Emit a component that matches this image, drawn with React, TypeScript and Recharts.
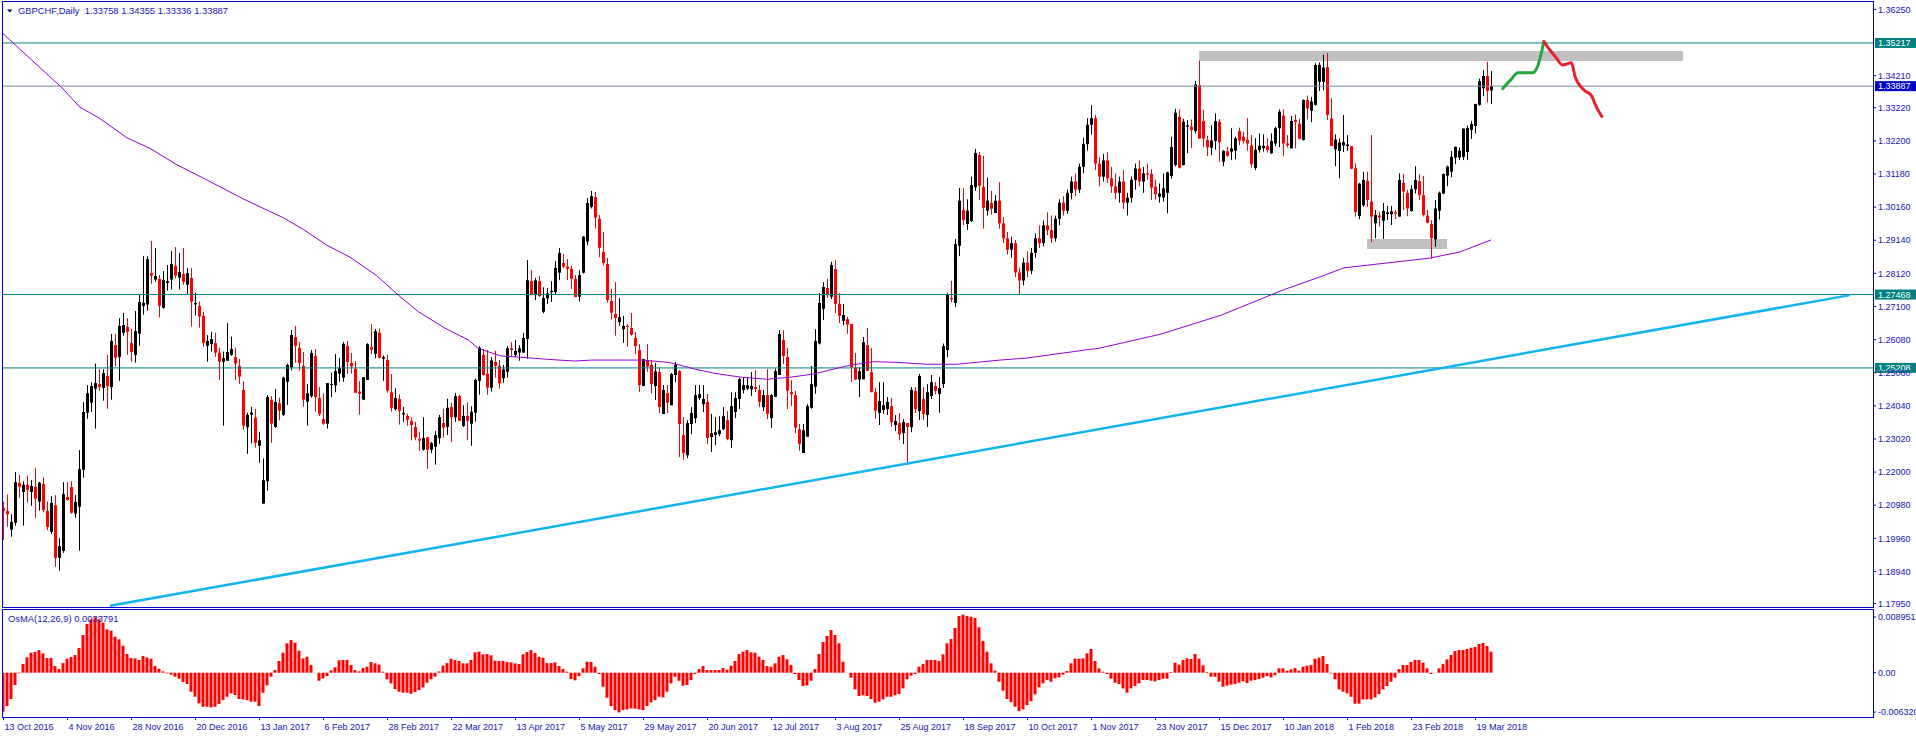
import React from 'react';
import { ComposedChart, Bar, Line, XAxis, YAxis, ReferenceLine, ReferenceArea } from 'recharts';

// GBPCHF daily candles, 13 Oct 2016 .. 23 Mar 2018 (one entry per bar)
const opens = [
  1.2090, 1.2080, 1.2023, 1.2044, 1.2167, 1.2139, 1.2161, 1.2139, 1.2154, 1.2109,
  1.2163, 1.2080, 1.2016, 1.2098, 1.1936, 1.1957, 1.2123, 1.2154, 1.2072, 1.2093,
  1.2207, 1.2383, 1.2414, 1.2457, 1.2471, 1.2459, 1.2496, 1.2462, 1.2591, 1.2555,
  1.2629, 1.2647, 1.2597, 1.2561, 1.2626, 1.2712, 1.2716, 1.2813, 1.2793, 1.2795,
  1.2706, 1.2783, 1.2793, 1.2835, 1.2799, 1.2810, 1.2777, 1.2798, 1.2716, 1.2712,
  1.2681, 1.2589, 1.2595, 1.2597, 1.2568, 1.2540, 1.2543, 1.2561, 1.2554, 1.2527,
  1.2453, 1.2338, 1.2377, 1.2368, 1.2281, 1.2103, 1.2172, 1.2423, 1.2339, 1.2412,
  1.2376, 1.2478, 1.2522, 1.2616, 1.2582, 1.2527, 1.2417, 1.2434, 1.2557, 1.2429,
  1.2363, 1.2349, 1.2468, 1.2467, 1.2503, 1.2491, 1.2588, 1.2536, 1.2518, 1.2448,
  1.2423, 1.2484, 1.2585, 1.2564, 1.2629, 1.2549, 1.2545, 1.2446, 1.2394, 1.2425,
  1.2377, 1.2373, 1.2357, 1.2339, 1.2302, 1.2269, 1.2307, 1.2269, 1.2278, 1.2304,
  1.2351, 1.2339, 1.2400, 1.2369, 1.2434, 1.2342, 1.2373, 1.2349, 1.2383, 1.2481,
  1.2561, 1.2503, 1.2460, 1.2539, 1.2527, 1.2489, 1.2509, 1.2581, 1.2561, 1.2568,
  1.2568, 1.2610, 1.2788, 1.2745, 1.2788, 1.2694, 1.2735, 1.2754, 1.2754, 1.2814,
  1.2844, 1.2833, 1.2826, 1.2795, 1.2740, 1.2814, 1.2910, 1.3017, 1.3047, 1.2980,
  1.2878, 1.2841, 1.2727, 1.2687, 1.2662, 1.2640, 1.2650, 1.2644, 1.2613, 1.2576,
  1.2465, 1.2545, 1.2530, 1.2465, 1.2508, 1.2379, 1.2443, 1.2406, 1.2499, 1.2511,
  1.2314, 1.2252, 1.2348, 1.2366, 1.2428, 1.2409, 1.2416, 1.2308, 1.2314, 1.2317,
  1.2332, 1.2360, 1.2298, 1.2385, 1.2425, 1.2453, 1.2457, 1.2455, 1.2462, 1.2453,
  1.2400, 1.2437, 1.2366, 1.2432, 1.2499, 1.2607, 1.2554, 1.2446, 1.2437, 1.2332,
  1.2259, 1.2309, 1.2398, 1.2463, 1.2596, 1.2703, 1.2767, 1.2740, 1.2825, 1.2718,
  1.2666, 1.2671, 1.2656, 1.2522, 1.2485, 1.2486, 1.2591, 1.2508, 1.2446, 1.2382,
  1.2391, 1.2394, 1.2403, 1.2345, 1.2351, 1.2320, 1.2351, 1.2338, 1.2450, 1.2388,
  1.2425, 1.2376, 1.2434, 1.2465, 1.2440, 1.2471, 1.2576, 1.2736, 1.2721, 1.2897,
  1.3007, 1.2964, 1.2973, 1.3077, 1.3177, 1.3078, 1.3005, 1.3029, 1.2998, 1.3036,
  1.2966, 1.2920, 1.2885, 1.2905, 1.2815, 1.2790, 1.2845, 1.2820, 1.2875, 1.2920,
  1.2905, 1.2960, 1.2945, 1.2920, 1.2980, 1.3030, 1.3005, 1.3060, 1.3095, 1.3070,
  1.3140, 1.3210, 1.3270, 1.3290, 1.3150, 1.3110, 1.3160, 1.3105, 1.3080, 1.3060,
  1.3095, 1.3030, 1.3045, 1.3100, 1.3135, 1.3095, 1.3120, 1.3118, 1.3079, 1.3048,
  1.3045, 1.3060, 1.3112, 1.3146, 1.3294, 1.3146, 1.3264, 1.3264, 1.3250, 1.3392,
  1.3281, 1.3223, 1.3199, 1.3220, 1.3279, 1.3156, 1.3188, 1.3187, 1.3190, 1.3250,
  1.3233, 1.3223, 1.3206, 1.3137, 1.3192, 1.3198, 1.3204, 1.3182, 1.3212, 1.3259,
  1.3298, 1.3212, 1.3197, 1.3285, 1.3273, 1.3223, 1.3346, 1.3313, 1.3331, 1.3402,
  1.3402, 1.3447, 1.3289, 1.3194, 1.3189, 1.3206, 1.3204, 1.3204, 1.3136, 1.2989,
  1.3022, 1.3097, 1.3033, 1.2966, 1.2990, 1.2974, 1.2995, 1.2994, 1.3000, 1.2987,
  1.3091, 1.3060, 1.3004, 1.3071, 1.3096, 1.3053, 1.2990, 1.2964, 1.2917, 1.3005,
  1.3058, 1.3113, 1.3125, 1.3169, 1.3169, 1.3171, 1.3186, 1.3254, 1.3266, 1.3331,
  1.3382, 1.3420, 1.33758,
];

const highs = [
  1.2109, 1.2131, 1.2070, 1.2200, 1.2191, 1.2172, 1.2189, 1.2175, 1.2212, 1.2170,
  1.2184, 1.2109, 1.2126, 1.2129, 1.1997, 1.2169, 1.2169, 1.2172, 1.2129, 1.2268,
  1.2416, 1.2468, 1.2477, 1.2534, 1.2517, 1.2517, 1.2561, 1.2625, 1.2625, 1.2674,
  1.2690, 1.2674, 1.2641, 1.2696, 1.2748, 1.2865, 1.2865, 1.2912, 1.2890, 1.2807,
  1.2819, 1.2838, 1.2881, 1.2893, 1.2875, 1.2890, 1.2829, 1.2829, 1.2752, 1.2725,
  1.2694, 1.2622, 1.2632, 1.2629, 1.2583, 1.2571, 1.2659, 1.2617, 1.2583, 1.2548,
  1.2480, 1.2383, 1.2401, 1.2395, 1.2324, 1.2242, 1.2437, 1.2434, 1.2456, 1.2429,
  1.2494, 1.2534, 1.2638, 1.2650, 1.2601, 1.2570, 1.2471, 1.2576, 1.2579, 1.2462,
  1.2443, 1.2474, 1.2506, 1.2564, 1.2551, 1.2601, 1.2604, 1.2567, 1.2542, 1.2480,
  1.2493, 1.2597, 1.2656, 1.2641, 1.2642, 1.2559, 1.2561, 1.2502, 1.2458, 1.2439,
  1.2401, 1.2380, 1.2369, 1.2355, 1.2324, 1.2369, 1.2309, 1.2293, 1.2326, 1.2376,
  1.2395, 1.2426, 1.2413, 1.2444, 1.2438, 1.2406, 1.2414, 1.2403, 1.2488, 1.2588,
  1.2579, 1.2576, 1.2554, 1.2574, 1.2545, 1.2530, 1.2588, 1.2600, 1.2607, 1.2591,
  1.2629, 1.2853, 1.2822, 1.2798, 1.2804, 1.2769, 1.2767, 1.2788, 1.2850, 1.2890,
  1.2872, 1.2856, 1.2835, 1.2807, 1.2822, 1.2927, 1.3044, 1.3066, 1.3063, 1.2992,
  1.2939, 1.2859, 1.2764, 1.2785, 1.2736, 1.2681, 1.2656, 1.2690, 1.2631, 1.2594,
  1.2549, 1.2594, 1.2545, 1.2536, 1.2523, 1.2468, 1.2468, 1.2505, 1.2539, 1.2514,
  1.2369, 1.2360, 1.2400, 1.2468, 1.2468, 1.2468, 1.2440, 1.2379, 1.2369, 1.2372,
  1.2400, 1.2388, 1.2446, 1.2446, 1.2491, 1.2492, 1.2490, 1.2508, 1.2514, 1.2468,
  1.2453, 1.2517, 1.2440, 1.2519, 1.2637, 1.2637, 1.2582, 1.2483, 1.2450, 1.2348,
  1.2348, 1.2409, 1.2527, 1.2640, 1.2751, 1.2785, 1.2795, 1.2848, 1.2853, 1.2751,
  1.2718, 1.2678, 1.2656, 1.2567, 1.2523, 1.2616, 1.2644, 1.2582, 1.2459, 1.2477,
  1.2477, 1.2431, 1.2428, 1.2375, 1.2382, 1.2363, 1.2351, 1.2462, 1.2462, 1.2502,
  1.2462, 1.2471, 1.2499, 1.2477, 1.2493, 1.2596, 1.2752, 1.2789, 1.2918, 1.3075,
  1.3075, 1.3040, 1.3110, 1.3195, 1.3186, 1.3174, 1.3107, 1.3066, 1.3053, 1.3093,
  1.2985, 1.2940, 1.2925, 1.2915, 1.2830, 1.2860, 1.2880, 1.2890, 1.2935, 1.2960,
  1.2975, 1.3000, 1.2990, 1.2990, 1.3040, 1.3050, 1.3070, 1.3110, 1.3120, 1.3150,
  1.3230, 1.3290, 1.3330, 1.3300, 1.3170, 1.3180, 1.3185, 1.3140, 1.3120, 1.3110,
  1.3130, 1.3060, 1.3110, 1.3150, 1.3160, 1.3140, 1.3150, 1.3133, 1.3100, 1.3089,
  1.3120, 1.3125, 1.3233, 1.3319, 1.3317, 1.3288, 1.3284, 1.3286, 1.3405, 1.3467,
  1.3315, 1.3236, 1.3268, 1.3305, 1.3287, 1.3192, 1.3202, 1.3259, 1.3233, 1.3261,
  1.3248, 1.3290, 1.3238, 1.3228, 1.3243, 1.3240, 1.3228, 1.3243, 1.3264, 1.3317,
  1.3317, 1.3238, 1.3297, 1.3302, 1.3288, 1.3348, 1.3360, 1.3356, 1.3459, 1.3462,
  1.3485, 1.3490, 1.3351, 1.3240, 1.3228, 1.3300, 1.3238, 1.3204, 1.3151, 1.3091,
  1.3125, 1.3125, 1.3238, 1.3007, 1.3002, 1.3029, 1.3020, 1.3020, 1.3007, 1.3120,
  1.3118, 1.3069, 1.3084, 1.3142, 1.3117, 1.3112, 1.3007, 1.2976, 1.3038, 1.3064,
  1.3120, 1.3144, 1.3189, 1.3202, 1.3200, 1.3258, 1.3267, 1.3282, 1.3334, 1.3412,
  1.3438, 1.3464, 1.34355,
];

const lows = [
  1.1991, 1.2032, 1.2001, 1.2035, 1.2121, 1.2035, 1.2106, 1.2096, 1.2059, 1.2081,
  1.2076, 1.2021, 1.2009, 1.1908, 1.1896, 1.1951, 1.2112, 1.2072, 1.2059, 1.1958,
  1.2183, 1.2364, 1.2385, 1.2334, 1.2451, 1.2420, 1.2395, 1.2423, 1.2525, 1.2481,
  1.2620, 1.2561, 1.2540, 1.2537, 1.2589, 1.2685, 1.2697, 1.2780, 1.2786, 1.2676,
  1.2703, 1.2759, 1.2762, 1.2796, 1.2762, 1.2777, 1.2746, 1.2648, 1.2682, 1.2645,
  1.2586, 1.2540, 1.2571, 1.2555, 1.2484, 1.2343, 1.2543, 1.2558, 1.2484, 1.2472,
  1.2331, 1.2256, 1.2288, 1.2275, 1.2229, 1.2103, 1.2143, 1.2290, 1.2336, 1.2360,
  1.2373, 1.2407, 1.2513, 1.2537, 1.2512, 1.2401, 1.2343, 1.2429, 1.2386, 1.2373,
  1.2346, 1.2334, 1.2431, 1.2446, 1.2478, 1.2478, 1.2503, 1.2503, 1.2444, 1.2377,
  1.2423, 1.2484, 1.2564, 1.2550, 1.2550, 1.2481, 1.2444, 1.2386, 1.2389, 1.2346,
  1.2355, 1.2343, 1.2298, 1.2298, 1.2266, 1.2266, 1.2210, 1.2258, 1.2223, 1.2287,
  1.2306, 1.2314, 1.2292, 1.2355, 1.2358, 1.2339, 1.2299, 1.2281, 1.2355, 1.2438,
  1.2497, 1.2438, 1.2448, 1.2491, 1.2457, 1.2475, 1.2491, 1.2555, 1.2555, 1.2543,
  1.2568, 1.2549, 1.2745, 1.2730, 1.2740, 1.2689, 1.2718, 1.2724, 1.2746, 1.2791,
  1.2828, 1.2791, 1.2764, 1.2739, 1.2725, 1.2812, 1.2899, 1.3012, 1.2950, 1.2862,
  1.2836, 1.2722, 1.2670, 1.2620, 1.2651, 1.2598, 1.2586, 1.2620, 1.2564, 1.2447,
  1.2465, 1.2509, 1.2443, 1.2422, 1.2382, 1.2379, 1.2382, 1.2406, 1.2477, 1.2246,
  1.2238, 1.2243, 1.2317, 1.2351, 1.2422, 1.2385, 1.2286, 1.2262, 1.2283, 1.2311,
  1.2329, 1.2298, 1.2274, 1.2366, 1.2394, 1.2442, 1.2453, 1.2434, 1.2446, 1.2400,
  1.2388, 1.2363, 1.2336, 1.2432, 1.2499, 1.2533, 1.2394, 1.2403, 1.2320, 1.2266,
  1.2259, 1.2309, 1.2395, 1.2441, 1.2593, 1.2668, 1.2736, 1.2733, 1.2690, 1.2659,
  1.2652, 1.2626, 1.2477, 1.2483, 1.2431, 1.2486, 1.2511, 1.2446, 1.2364, 1.2345,
  1.2379, 1.2376, 1.2339, 1.2326, 1.2298, 1.2286, 1.2222, 1.2323, 1.2382, 1.2360,
  1.2360, 1.2339, 1.2425, 1.2440, 1.2383, 1.2459, 1.2554, 1.2724, 1.2708, 1.2865,
  1.2961, 1.2946, 1.2970, 1.3066, 1.3038, 1.2950, 1.2990, 1.2993, 1.2997, 1.2950,
  1.2905, 1.2870, 1.2860, 1.2800, 1.2748, 1.2775, 1.2800, 1.2810, 1.2860, 1.2890,
  1.2895, 1.2930, 1.2905, 1.2910, 1.2960, 1.2990, 1.2995, 1.3040, 1.3050, 1.3060,
  1.3120, 1.3190, 1.3240, 1.3130, 1.3080, 1.3095, 1.3090, 1.3060, 1.3040, 1.3030,
  1.3010, 1.2990, 1.3030, 1.3070, 1.3080, 1.3060, 1.3100, 1.3038, 1.3040, 1.3030,
  1.3033, 1.2997, 1.3104, 1.3141, 1.3135, 1.3144, 1.3182, 1.3198, 1.3243, 1.3227,
  1.3200, 1.3173, 1.3176, 1.3193, 1.3156, 1.3142, 1.3171, 1.3161, 1.3163, 1.3207,
  1.3212, 1.3190, 1.3138, 1.3130, 1.3184, 1.3187, 1.3184, 1.3180, 1.3204, 1.3201,
  1.3173, 1.3200, 1.3197, 1.3197, 1.3225, 1.3221, 1.3286, 1.3278, 1.3329, 1.3374,
  1.3376, 1.3284, 1.3204, 1.3142, 1.3105, 1.3186, 1.3190, 1.3134, 1.2987, 1.2979,
  1.3017, 1.3017, 1.2908, 1.2920, 1.2956, 1.2918, 1.2976, 1.2961, 1.2979, 1.2987,
  1.3007, 1.2989, 1.3002, 1.3058, 1.3038, 1.2987, 1.2966, 1.2858, 1.2894, 1.2978,
  1.3056, 1.3081, 1.3108, 1.3149, 1.3161, 1.3161, 1.3161, 1.3226, 1.3243, 1.3328,
  1.3358, 1.3338, 1.33336,
];

const closes = [
  1.2080, 1.2070, 1.2047, 1.2169, 1.2155, 1.2161, 1.2145, 1.2157, 1.2118, 1.2167,
  1.2083, 1.2031, 1.2105, 1.1936, 1.1972, 1.2132, 1.2114, 1.2075, 1.2108, 1.2209,
  1.2385, 1.2443, 1.2465, 1.2474, 1.2462, 1.2505, 1.2465, 1.2604, 1.2552, 1.2650,
  1.2653, 1.2632, 1.2570, 1.2634, 1.2724, 1.2721, 1.2856, 1.2805, 1.2804, 1.2712,
  1.2792, 1.2788, 1.2841, 1.2805, 1.2816, 1.2786, 1.2813, 1.2725, 1.2721, 1.2679,
  1.2598, 1.2604, 1.2610, 1.2568, 1.2540, 1.2551, 1.2570, 1.2579, 1.2534, 1.2494,
  1.2343, 1.2376, 1.2383, 1.2290, 1.2298, 1.2175, 1.2431, 1.2349, 1.2416, 1.2389,
  1.2491, 1.2530, 1.2622, 1.2589, 1.2535, 1.2423, 1.2443, 1.2567, 1.2431, 1.2379,
  1.2349, 1.2474, 1.2471, 1.2511, 1.2521, 1.2595, 1.2539, 1.2525, 1.2444, 1.2441,
  1.2492, 1.2594, 1.2577, 1.2634, 1.2552, 1.2554, 1.2451, 1.2398, 1.2428, 1.2389,
  1.2382, 1.2361, 1.2345, 1.2307, 1.2297, 1.2305, 1.2269, 1.2289, 1.2314, 1.2369,
  1.2337, 1.2398, 1.2369, 1.2434, 1.2358, 1.2373, 1.2358, 1.2386, 1.2484, 1.2583,
  1.2499, 1.2460, 1.2544, 1.2527, 1.2473, 1.2516, 1.2581, 1.2576, 1.2573, 1.2581,
  1.2613, 1.2791, 1.2747, 1.2791, 1.2742, 1.2736, 1.2751, 1.2758, 1.2829, 1.2875,
  1.2833, 1.2826, 1.2795, 1.2739, 1.2807, 1.2925, 1.3029, 1.3050, 1.2984, 1.2891,
  1.2844, 1.2730, 1.2691, 1.2675, 1.2677, 1.2650, 1.2647, 1.2623, 1.2588, 1.2468,
  1.2548, 1.2525, 1.2471, 1.2510, 1.2400, 1.2453, 1.2414, 1.2502, 1.2530, 1.2348,
  1.2258, 1.2351, 1.2382, 1.2437, 1.2440, 1.2425, 1.2305, 1.2320, 1.2323, 1.2329,
  1.2372, 1.2302, 1.2403, 1.2428, 1.2486, 1.2468, 1.2467, 1.2465, 1.2456, 1.2417,
  1.2437, 1.2379, 1.2437, 1.2511, 1.2625, 1.2557, 1.2451, 1.2440, 1.2337, 1.2287,
  1.2329, 1.2403, 1.2471, 1.2604, 1.2721, 1.2770, 1.2745, 1.2838, 1.2718, 1.2681,
  1.2684, 1.2654, 1.2522, 1.2485, 1.2511, 1.2600, 1.2512, 1.2446, 1.2389, 1.2419,
  1.2406, 1.2416, 1.2354, 1.2357, 1.2316, 1.2354, 1.2339, 1.2453, 1.2394, 1.2496,
  1.2379, 1.2446, 1.2477, 1.2450, 1.2459, 1.2588, 1.2748, 1.2734, 1.2902, 1.3036,
  1.2976, 1.3005, 1.3084, 1.3183, 1.3082, 1.3014, 1.3036, 1.3011, 1.3036, 1.2966,
  1.2920, 1.2885, 1.2905, 1.2815, 1.2790, 1.2845, 1.2820, 1.2875, 1.2920, 1.2905,
  1.2960, 1.2945, 1.2920, 1.2980, 1.3030, 1.3005, 1.3060, 1.3095, 1.3070, 1.3140,
  1.3210, 1.3270, 1.3290, 1.3150, 1.3110, 1.3160, 1.3105, 1.3080, 1.3060, 1.3095,
  1.3030, 1.3045, 1.3100, 1.3135, 1.3095, 1.3120, 1.3118, 1.3076, 1.3056, 1.3058,
  1.3074, 1.3123, 1.3201, 1.3307, 1.3137, 1.3279, 1.3268, 1.3254, 1.3394, 1.3227,
  1.3227, 1.3200, 1.3221, 1.3281, 1.3216, 1.3189, 1.3174, 1.3197, 1.3228, 1.3221,
  1.3220, 1.3212, 1.3148, 1.3193, 1.3205, 1.3205, 1.3192, 1.3220, 1.3259, 1.3310,
  1.3212, 1.3206, 1.3281, 1.3279, 1.3226, 1.3346, 1.3320, 1.3341, 1.3454, 1.3454,
  1.3446, 1.3300, 1.3204, 1.3224, 1.3215, 1.3216, 1.3209, 1.3134, 1.3001, 1.3088,
  1.3100, 1.3038, 1.2987, 1.2992, 1.2984, 1.3004, 1.3000, 1.3003, 1.2996, 1.3100,
  1.3064, 1.3012, 1.3071, 1.3100, 1.3053, 1.2992, 1.2968, 1.2920, 1.3012, 1.3060,
  1.3118, 1.3141, 1.3171, 1.3202, 1.3190, 1.3258, 1.3260, 1.3272, 1.3334, 1.3404,
  1.3420, 1.3374, 1.33887,
];

// OsMA(12,26,9) histogram, one value per bar
const osmaValues = [
  -0.00627, -0.00536, -0.00423, -0.00198, -0.00011, 0.00139, 0.00247, 0.00322, 0.00332, 0.00364,
  0.00311, 0.00236, 0.00236, 0.00107, 0.00059, 0.00155, 0.00225, 0.00252, 0.00284, 0.00397,
  0.00606, 0.00783, 0.00858, 0.00890, 0.00858, 0.00804, 0.00697, 0.00675, 0.00579, 0.00536,
  0.00434, 0.00300, 0.00236, 0.00230, 0.00204, 0.00268, 0.00247, 0.00225, 0.00107, 0.00064,
  0.00021, -0.00011, -0.00032, -0.00064, -0.00096, -0.00150, -0.00182, -0.00306, -0.00386, -0.00493,
  -0.00547, -0.00547, -0.00557, -0.00547, -0.00504, -0.00440, -0.00386, -0.00332, -0.00359, -0.00423,
  -0.00429, -0.00440, -0.00466, -0.00466, -0.00536, -0.00322, -0.00204, -0.00064, 0.00043, 0.00188,
  0.00322, 0.00472, 0.00525, 0.00482, 0.00354, 0.00230, 0.00257, 0.00123, 0.00002, -0.00129,
  -0.00091, -0.00054, 0.00038, 0.00086, 0.00198, 0.00204, 0.00204, 0.00123, 0.00043, 0.00021,
  0.00075, 0.00096, 0.00172, 0.00150, 0.00129, 0.00016, -0.00107, -0.00172, -0.00263, -0.00306,
  -0.00322, -0.00322, -0.00338, -0.00311, -0.00279, -0.00236, -0.00161, -0.00107, -0.00064, 0.00021,
  0.00113, 0.00155, 0.00225, 0.00204, 0.00188, 0.00150, 0.00150, 0.00204, 0.00327, 0.00338,
  0.00295, 0.00300, 0.00279, 0.00193, 0.00188, 0.00188, 0.00172, 0.00166, 0.00150, 0.00139,
  0.00295, 0.00332, 0.00364, 0.00316, 0.00257, 0.00241, 0.00155, 0.00155, 0.00166, 0.00107,
  0.00059, 0.00016, -0.00102, -0.00123, -0.00054, 0.00070, 0.00177, 0.00172, 0.00096, -0.00021,
  -0.00225, -0.00402, -0.00536, -0.00600, -0.00638, -0.00600, -0.00590, -0.00574, -0.00579, -0.00590,
  -0.00600, -0.00536, -0.00477, -0.00440, -0.00386, -0.00397, -0.00306, -0.00172, -0.00064, -0.00129,
  -0.00209, -0.00198, -0.00118, -0.00021, 0.00059, 0.00107, 0.00043, 0.00043, 0.00043, 0.00043,
  0.00075, 0.00048, 0.00113, 0.00188, 0.00300, 0.00338, 0.00364, 0.00327, 0.00322, 0.00257,
  0.00204, 0.00107, 0.00096, 0.00150, 0.00257, 0.00284, 0.00214, 0.00123, -0.00021, -0.00118,
  -0.00214, -0.00204, -0.00129, 0.00059, 0.00300, 0.00493, 0.00590, 0.00686, 0.00606, 0.00472,
  0.00177, 0.00002, -0.00080, -0.00268, -0.00375, -0.00364, -0.00375, -0.00423, -0.00482, -0.00466,
  -0.00429, -0.00386, -0.00386, -0.00364, -0.00343, -0.00252, -0.00107, -0.00048, -0.00021, 0.00096,
  0.00139, 0.00204, 0.00204, 0.00204, 0.00188, 0.00295, 0.00472, 0.00541, 0.00718, 0.00911,
  0.00933, 0.00911, 0.00900, 0.00879, 0.00729, 0.00509, 0.00338, 0.00150, 0.00032, -0.00145,
  -0.00289, -0.00423, -0.00472, -0.00547, -0.00616, -0.00590, -0.00520, -0.00456, -0.00348, -0.00236,
  -0.00172, -0.00118, -0.00145, -0.00091, -0.00075, -0.00032, 0.00027, 0.00150, 0.00225, 0.00225,
  0.00230, 0.00311, 0.00381, 0.00188, 0.00070, 0.00016, -0.00021, -0.00096, -0.00161, -0.00182,
  -0.00252, -0.00322, -0.00252, -0.00214, -0.00172, -0.00118, -0.00118, -0.00129, -0.00139, -0.00118,
  -0.00096, -0.00096, 0.00011, 0.00161, 0.00129, 0.00204, 0.00230, 0.00220, 0.00300, 0.00225,
  0.00118, 0.00011, -0.00064, -0.00064, -0.00145, -0.00225, -0.00209, -0.00193, -0.00182, -0.00161,
  -0.00139, -0.00166, -0.00129, -0.00118, -0.00102, -0.00080, -0.00054, -0.00075, -0.00038, 0.00070,
  0.00070, 0.00032, 0.00054, 0.00075, 0.00032, 0.00096, 0.00113, 0.00123, 0.00225, 0.00241,
  0.00268, 0.00139, -0.00011, -0.00107, -0.00268, -0.00306, -0.00332, -0.00386, -0.00498, -0.00498,
  -0.00429, -0.00429, -0.00429, -0.00397, -0.00343, -0.00268, -0.00214, -0.00145, -0.00080, 0.00059,
  0.00123, 0.00123, 0.00172, 0.00204, 0.00204, 0.00161, 0.00070, -0.00021, 0.00002, 0.00070,
  0.00139, 0.00214, 0.00284, 0.00348, 0.00364, 0.00364, 0.00381, 0.00402, 0.00413, 0.00461,
  0.00477, 0.00429, 0.00338,
];

// moving average (purple), sampled along the line: bar position and value
const maBars = [
  -0.3, 2.9, 14.5, 19.1, 24.1, 30.8, 36.6, 43.3, 50.8, 60, 70, 75, 80.8, 86.6, 93.3, 98.7,
  103.7, 110.4, 116.2, 118.7, 124.2, 131.2, 136.2, 142.9, 147, 159.5, 166.2, 169.5, 172.9,
  177.9, 184.5, 190.8, 196.6, 202.5, 210.8, 217.5, 223.3, 230.8, 238.3, 249.1, 255.6, 274.1,
  289.4, 304.6, 319.9, 329.1, 335.1, 356.6, 364.1, 371.9,
];
const maValues = [
  1.3553, 1.3516, 1.3385, 1.3324, 1.3289, 1.3230, 1.3197, 1.3147, 1.3100, 1.3041, 1.2983, 1.2947,
  1.2899, 1.2862, 1.2805, 1.2745, 1.2694, 1.2643, 1.2607, 1.2581, 1.2558, 1.2552, 1.2547, 1.2542,
  1.2545, 1.2545, 1.2538, 1.2528, 1.2517, 1.2504, 1.2492, 1.2486, 1.2492, 1.2502, 1.2527, 1.2540,
  1.2538, 1.2532, 1.2532, 1.2545, 1.2551, 1.2582, 1.2625, 1.2684, 1.2761, 1.2801, 1.2829, 1.2859,
  1.2878, 1.2915,
];

// rising trendline (light blue)
const trendBars = [26.6, 461.6];
const trendValues = [1.1788, 1.2745];

// hand-drawn projection: green leg up, red leg down
const upBars = [374.8, 376.8, 378.6, 382.2, 383.5, 385.1];
const upValues = [1.3381, 1.3408, 1.3430, 1.3430, 1.3449, 1.3526];
const downBars = [385.1, 386.6, 388.0, 389.75, 392.0, 392.9, 395.1, 396.9, 398.2, 399.6];
const downValues = [1.3526, 1.3500, 1.3479, 1.3454, 1.3461, 1.3418, 1.3377, 1.3361, 1.3325, 1.3295];

// grey zones
const zoneBars = [[298.9, 419.9], [340.9, 360.9]];
const zonePrices = [[1.3466, 1.3497], [1.2887, 1.2918]];

// horizontal levels
const levelPrices = [1.35217, 1.27468, 1.25208];
const levelLabels = ['1.35217', '1.27468', '1.25208'];
const bidPrice = 1.33887;

const priceTicks = [
  1.3625, 1.3421, 1.3322, 1.322, 1.3118, 1.3016, 1.2914, 1.2812, 1.271, 1.2608, 1.2506,
  1.2404, 1.2302, 1.22, 1.2098, 1.1996, 1.1894, 1.1795,
];
const osmaTicks = [0.008951, 0, -0.00632];
const osmaTickLabels = ['0.008951', '0.00', '-0.006320'];

const dateBars = [0, 16, 32, 48, 64, 80, 96, 112, 128, 144, 160, 176, 192, 208, 224, 240, 256, 272, 288, 304, 320, 336, 352, 368];
const dateLabels = [
  '13 Oct 2016', '4 Nov 2016', '28 Nov 2016', '20 Dec 2016', '13 Jan 2017', '6 Feb 2017',
  '28 Feb 2017', '22 Mar 2017', '13 Apr 2017', '5 May 2017', '29 May 2017', '20 Jun 2017',
  '12 Jul 2017', '3 Aug 2017', '25 Aug 2017', '18 Sep 2017', '10 Oct 2017', '1 Nov 2017',
  '23 Nov 2017', '15 Dec 2017', '10 Jan 2018', '1 Feb 2018', '23 Feb 2018', '19 Mar 2018',
];

const W = 1916;
const AXIS_W = 43;
const FRAME = '#0000d0';
const TEXT = '#1616b8';
const FONT = '"Liberation Sans", Arial, sans-serif';
const xDomain: [number, number] = [-0.375, 467.375];

const bars = opens.map((open, i) => ({
  i,
  open,
  high: highs[i],
  low: lows[i],
  close: closes[i],
  osma: osmaValues[i],
}));

const toPoints = (xs: number[], vs: number[]) => xs.map((i, k) => ({ i, v: vs[k] }));

function Candle(props: any) {
  const { x, y, width, height, payload } = props;
  if (!payload || x == null || y == null) return null;
  const { open, close, high, low } = payload;
  let top = y;
  let h = height;
  if (h < 0) {
    top = y + h;
    h = -h;
  }
  const k = high > low ? h / (high - low) : 0;
  const py = (p: number) => top + (high - p) * k;
  const cx = Math.floor(x + width / 2) + 0.5;
  const color = close >= open ? '#000000' : '#ff0000';
  const bodyTop = py(Math.max(open, close));
  const bodyH = Math.max(1, py(Math.min(open, close)) - bodyTop);
  return (
    <g>
      <line x1={cx} x2={cx} y1={top} y2={top + h} stroke={color} strokeWidth={1} />
      <rect x={cx - 1.5} y={bodyTop} width={3} height={bodyH} fill={color} />
    </g>
  );
}

function PriceTag(props: any) {
  const { viewBox, text, bg } = props;
  if (!viewBox) return null;
  const x = viewBox.x + viewBox.width + 2;
  const y = viewBox.y;
  return (
    <g>
      <rect x={x} y={y - 5} width={42} height={10} fill={bg} />
      <text x={x + 3} y={y} dy="0.36em" fill="#ffffff" fontSize={9} fontFamily={FONT}>
        {text}
      </text>
    </g>
  );
}

function DateTick(props: any) {
  const { x, y, payload } = props;
  const idx = dateBars.indexOf(payload.value);
  return (
    <g>
      <line x1={x} x2={x} y1={y} y2={y + 3} stroke={FRAME} />
      <text x={x + 1} y={y + 13} fill={TEXT} fontSize={9} fontFamily={FONT}>
        {idx >= 0 ? dateLabels[idx] : ''}
      </text>
    </g>
  );
}

export default function App() {
  return (
    <div style={{ position: 'absolute', left: 0, top: 0, width: W, height: 738, background: '#fff', overflow: 'hidden' }}>
      {/* price window */}
      <div style={{ position: 'absolute', left: 0, top: 0 }}>
        <ComposedChart width={W} height={610} data={bars} margin={{ top: 2, right: 0, bottom: 3, left: 2 }}>
          <XAxis dataKey="i" type="number" domain={xDomain} allowDataOverflow hide />
          <YAxis
            orientation="right"
            type="number"
            domain={[1.178444, 1.364784]}
            allowDataOverflow
            ticks={priceTicks}
            interval={0}
            width={AXIS_W}
            axisLine={false}
            tickLine={{ stroke: FRAME }}
            tickSize={3}
            tickMargin={2}
            tick={{ fill: TEXT, fontSize: 9, fontFamily: FONT }}
            tickFormatter={(v: number) => v.toFixed(5)}
          />
          {zoneBars.map((z, k) => (
            <ReferenceArea
              key={`zone-${k}`}
              x1={z[0]}
              x2={z[1]}
              y1={zonePrices[k][0]}
              y2={zonePrices[k][1]}
              fill="#c0c0c0"
              fillOpacity={1}
              stroke="none"
            />
          ))}
          {levelPrices.map((p, k) => (
            <ReferenceLine
              key={`lvl-${k}`}
              y={p}
              stroke="#008080"
              strokeWidth={1}
              label={<PriceTag text={levelLabels[k]} bg="#008080" />}
            />
          ))}
          <ReferenceLine y={bidPrice} stroke="#7a8899" strokeWidth={1} label={<PriceTag text="1.33887" bg="#0000c8" />} />
          <Line
            data={toPoints(maBars, maValues)}
            dataKey="v"
            type="linear"
            stroke="#9400d3"
            strokeWidth={1}
            dot={false}
            isAnimationActive={false}
          />
          <Line
            data={toPoints(trendBars, trendValues)}
            dataKey="v"
            type="linear"
            stroke="#10b4f0"
            strokeWidth={2.5}
            dot={false}
            isAnimationActive={false}
          />
          <Bar
            dataKey={(d: any) => [d.low, d.high]}
            barSize={3}
            isAnimationActive={false}
            shape={(p: any) => <Candle {...p} />}
          />
          <Line
            data={toPoints(upBars, upValues)}
            dataKey="v"
            type="monotone"
            stroke="#22a83a"
            strokeWidth={3}
            strokeLinecap="round"
            dot={false}
            isAnimationActive={false}
          />
          <Line
            data={toPoints(downBars, downValues)}
            dataKey="v"
            type="monotone"
            stroke="#e8202a"
            strokeWidth={3}
            strokeLinecap="round"
            dot={false}
            isAnimationActive={false}
          />
        </ComposedChart>
      </div>

      {/* OsMA window */}
      <div style={{ position: 'absolute', left: 0, top: 609 }}>
        <ComposedChart width={W} height={129} data={bars} margin={{ top: 1, right: 0, bottom: 0, left: 2 }}>
          <XAxis
            dataKey="i"
            type="number"
            domain={xDomain}
            allowDataOverflow
            ticks={dateBars}
            interval={0}
            height={21}
            axisLine={false}
            tickLine={false}
            tickSize={0}
            tickMargin={0}
            tick={<DateTick />}
          />
          <YAxis
            orientation="right"
            type="number"
            domain={[-0.00712, 0.01008]}
            allowDataOverflow
            ticks={osmaTicks}
            interval={0}
            width={AXIS_W}
            axisLine={false}
            tickLine={{ stroke: FRAME }}
            tickSize={3}
            tickMargin={2}
            tick={{ fill: TEXT, fontSize: 9, fontFamily: FONT }}
            tickFormatter={(v: number) => {
              const k = osmaTicks.indexOf(v);
              return k >= 0 ? osmaTickLabels[k] : '';
            }}
          />
          <Bar dataKey="osma" fill="#ff0000" barSize={3} isAnimationActive={false} />
        </ComposedChart>
      </div>

      {/* window frames */}
      <div style={{ position: 'absolute', left: 2, top: 1, width: 1872, height: 607, border: `1px solid ${FRAME}`, boxSizing: 'border-box', pointerEvents: 'none' }} />
      <div style={{ position: 'absolute', left: 2, top: 609, width: 1872, height: 109, border: `1px solid ${FRAME}`, boxSizing: 'border-box', pointerEvents: 'none' }} />

      {/* window captions */}
      <svg style={{ position: 'absolute', left: 0, top: 0 }} width={16} height={16}>
        <polygon points="7,9.5 12.5,9.5 9.75,12.5" fill="#000080" />
      </svg>
      <div style={{ position: 'absolute', left: 18, top: 5, fontFamily: FONT, fontSize: 9.4, lineHeight: '11px', color: TEXT, whiteSpace: 'pre' }}>
        GBPCHF,Daily  1.33758 1.34355 1.33336 1.33887
      </div>
      <div style={{ position: 'absolute', left: 8, top: 613, fontFamily: FONT, fontSize: 9.4, lineHeight: '11px', color: TEXT, whiteSpace: 'pre' }}>
        OsMA(12,26,9) 0.0033791
      </div>
    </div>
  );
}
